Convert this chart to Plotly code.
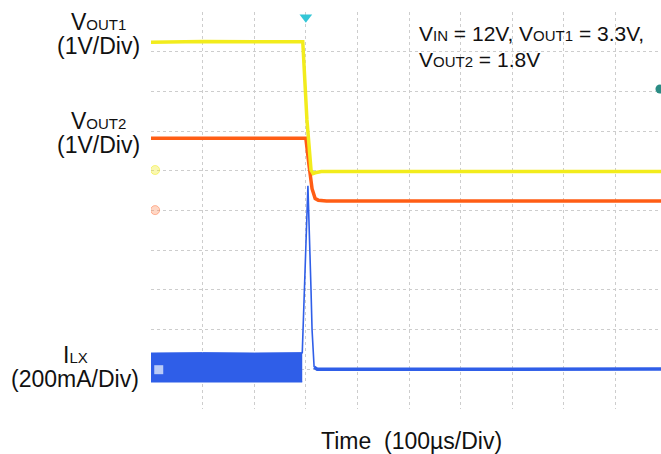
import plotly.graph_objects as go

# scope screen in divisions: x = time (100us/div), y = vertical divisions from bottom
x_max = 9.88

vout1_t = [0, 1.0, 2.0, 2.94, 3.02, 3.10, 3.14, 3.18, 3.30, 5.0, 7.0, 9.88]
vout1_v = [9.24, 9.26, 9.25, 9.25, 7.3, 6.02, 5.93, 5.95, 5.98, 5.99, 5.98, 5.98]

vout2_t = [0, 1.5, 3.00, 3.06, 3.12, 3.18, 3.24, 3.40, 5.0, 7.0, 9.88]
vout2_v = [6.82, 6.82, 6.82, 6.15, 5.55, 5.30, 5.26, 5.24, 5.24, 5.24, 5.24]

# switching current band before the event (top / bottom of the ripple envelope)
ilx_band_t = [0, 1.0, 2.0, 2.93]
ilx_band_top = [1.41, 1.42, 1.41, 1.42]
ilx_band_bot = [0.68, 0.68, 0.67, 0.68]

ilx_spike_t = [2.93, 2.97, 3.04, 3.10, 3.12, 3.16]
ilx_spike_v = [1.40, 3.00, 5.62, 3.00, 2.00, 1.05]

ilx_after_t = [3.16, 3.22, 5.0, 7.0, 9.88]
ilx_after_v = [1.05, 1.00, 1.00, 1.01, 1.01]

YELLOW = "#f2ec1c"
ORANGE = "#ff5d14"
BLUE = "#2f5ee8"

fig = go.Figure()

fig.add_trace(go.Scatter(x=ilx_band_t, y=ilx_band_bot, mode="lines",
                         line=dict(color=BLUE, width=1)))
fig.add_trace(go.Scatter(x=ilx_band_t, y=ilx_band_top, mode="lines", fill="tonexty",
                         fillcolor=BLUE, line=dict(color=BLUE, width=1)))
fig.add_trace(go.Scatter(x=ilx_spike_t, y=ilx_spike_v, mode="lines",
                         line=dict(color=BLUE, width=1.6)))
fig.add_trace(go.Scatter(x=ilx_after_t, y=ilx_after_v, mode="lines",
                         line=dict(color=BLUE, width=3.5)))
fig.add_trace(go.Scatter(x=vout2_t, y=vout2_v, mode="lines",
                         line=dict(color=ORANGE, width=3.5)))
fig.add_trace(go.Scatter(x=vout1_t, y=vout1_v, mode="lines",
                         line=dict(color=YELLOW, width=3.5)))

# channel ground markers, trigger position and trigger level
fig.add_trace(go.Scatter(x=[0.08, 0.08], y=[6.02, 5.01], mode="markers",
                         marker=dict(size=9, color=["rgba(242,236,28,0.35)", "rgba(255,140,90,0.35)"],
                                     line=dict(width=1, color=["rgba(242,236,28,0.5)", "rgba(255,120,70,0.5)"]))))
fig.add_trace(go.Scatter(x=[0.15], y=[0.99], mode="markers",
                         marker=dict(size=9, symbol="square", color="rgba(220,230,250,0.8)")))
fig.add_trace(go.Scatter(x=[3.0], y=[9.87], mode="markers",
                         marker=dict(size=11, symbol="triangle-down", color="#33c6d6")))
fig.add_trace(go.Scatter(x=[9.86], y=[8.06], mode="markers",
                         marker=dict(size=9, color="#2a8c84")))

FONT = "Liberation Sans, Arial, sans-serif"


def sub(s, px=15):
    return f'<span style="font-size:{px}px">{s}</span>'


# paper y from a pixel row (plot bottom at 409px, plot height 397px)
def py(pix):
    return (409 - pix) / 397


def px(pix):
    return (pix - 151) / 510


def note(text, x, y, anchor="center", size=23):
    fig.add_annotation(text=text, xref="paper", yref="paper", x=px(x), y=py(y),
                       xanchor=anchor, yanchor="middle", showarrow=False,
                       font=dict(size=size, color="#111111", family=FONT))


# left channel labels
note("V" + sub("OUT1"), 98.5, 22)
note("(1V/Div)", 98.5, 46)
note("V" + sub("OUT2"), 98.5, 121)
note("(1V/Div)", 98.5, 145)
note("I" + sub("LX"), 75, 355)
note("(200mA/Div)", 75, 379)

# conditions
note("V" + sub("IN", 15) + " = 12V, V" + sub("OUT1", 15) + " = 3.3V,", 417, 33, "left", 21)
note("V" + sub("OUT2", 15) + " = 1.8V", 417, 59, "left", 21)

note("Time  (100\u00b5s/Div)", 411, 441, size=23)

grid = dict(showgrid=True, gridcolor="#cdcdcd", griddash="dot", gridwidth=1,
            zeroline=False, showticklabels=False, ticks="", showline=False, dtick=1)

fig.update_layout(
    width=661, height=454,
    margin=dict(l=151, r=0, t=12, b=45),
    paper_bgcolor="white", plot_bgcolor="white",
    showlegend=False,
    xaxis=dict(range=[0, x_max], tick0=0, **grid),
    yaxis=dict(range=[0, 10], tick0=0, **grid),
)

fig.write_html("out.html", config={"displayModeBar": False},
               post_script="document.body.style.margin='0';")
